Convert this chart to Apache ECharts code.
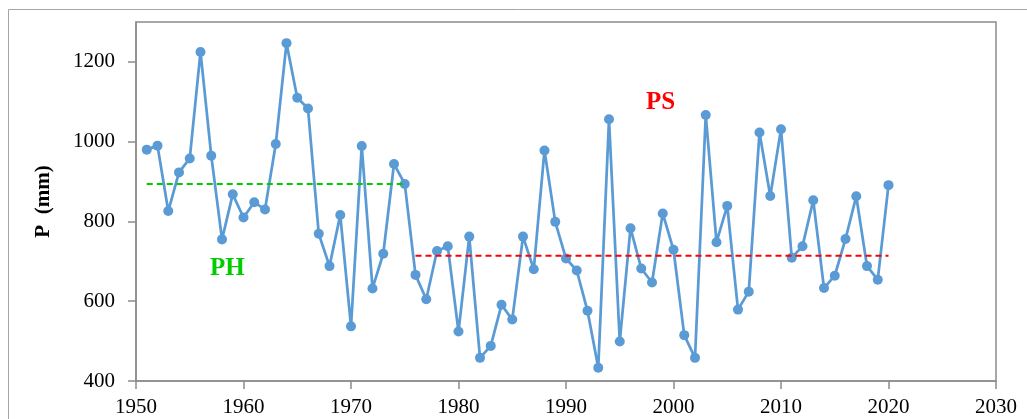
<!DOCTYPE html>
<html>
<head>
<meta charset="utf-8">
<script src="https://cdn.jsdelivr.net/npm/echarts@6/dist/echarts.min.js"></script>
<style>
html, body { margin: 0; padding: 0; background: #fff; }
#chart { width: 1027px; height: 419px; }
</style>
</head>
<body>
<div id="chart"></div>
<script>
var years = [];
for (var y = 1951; y <= 2020; y++) years.push(y);

var precip = [
    980, 990, 826, 923, 958, 1225, 965, 755, 868, 810,
    848, 830, 994, 1247, 1110, 1083, 769, 688, 816, 537,
    989, 632, 719, 944, 894, 666, 605, 726, 738, 524,
    762, 458, 488, 591, 554, 762, 680, 978, 799, 707,
    677, 576, 433, 1056, 499, 783, 682, 647, 820, 729,
    515, 458, 1067, 748, 839, 579, 624, 1023, 864, 1031,
    709, 738, 853, 633, 664, 756, 863, 688, 654, 891
];

// mean of each period
var phRange = [1951, 1975];
var phMean = 894;
var psRange = [1976, 2020];
var psMean = 714;

var serif = '"Liberation Serif", "Times New Roman", serif';

var dom = document.getElementById("chart");
var myChart = echarts.init(dom);

var option = {
    animation: false,
    backgroundColor: '#fff',
    grid: {
        left: 136,
        right: 31,
        top: 22,
        bottom: 38,
        show: true,
        borderColor: '#8c8c8c',
        borderWidth: 1.5
    },
    graphic: [
        {
            type: 'rect',
            shape: { x: 8.5, y: 9.5, width: 1040, height: 430 },
            style: { fill: 'none', stroke: '#a6a6a6', lineWidth: 1 },
            silent: true
        },
        {
            type: 'text',
            left: 210,
            top: 256,
            style: { text: 'PH', fill: '#00cc00', font: 'bold 25px ' + serif }
        },
        {
            type: 'text',
            left: 646,
            top: 90,
            style: { text: 'PS', fill: '#ff0000', font: 'bold 25px ' + serif }
        }
    ],
    xAxis: {
        type: 'value',
        min: 1950,
        max: 2030,
        interval: 10,
        axisLine: { lineStyle: { color: '#8c8c8c', width: 1.5 } },
        axisTick: { length: 8, lineStyle: { color: '#8c8c8c', width: 1.5 } },
        axisLabel: { color: '#000', fontFamily: serif, fontSize: 21, margin: 16,
            formatter: function (v) { return String(v); } },
        splitLine: { show: false }
    },
    yAxis: {
        type: 'value',
        min: 400,
        max: 1300,
        interval: 200,
        name: 'P  (mm)',
        nameLocation: 'middle',
        nameGap: 82,
        nameTextStyle: { color: '#000', fontFamily: serif, fontSize: 21, fontWeight: 'bold' },
        axisLine: { show: true, lineStyle: { color: '#8c8c8c', width: 1.5 } },
        axisTick: { show: true, length: 8, lineStyle: { color: '#8c8c8c', width: 1.5 } },
        axisLabel: { color: '#000', fontFamily: serif, fontSize: 21, margin: 21,
            showMaxLabel: false,
            formatter: function (v) { return String(v); } },
        splitLine: { show: false }
    },
    series: [
        {
            name: 'P',
            type: 'line',
            data: years.map(function (yr, i) { return [yr, precip[i]]; }),
            symbol: 'circle',
            symbolSize: 10,
            lineStyle: { color: '#5b9bd5', width: 2.75 },
            itemStyle: { color: '#5b9bd5' },
            z: 2
        },
        {
            name: 'PH',
            type: 'line',
            data: [[phRange[0], phMean], [phRange[1], phMean]],
            symbol: 'none',
            lineStyle: { color: '#00cc00', width: 2, type: [6, 4] },
            z: 3
        },
        {
            name: 'PS',
            type: 'line',
            data: [[psRange[0], psMean], [psRange[1], psMean]],
            symbol: 'none',
            lineStyle: { color: '#ff0000', width: 2, type: [6, 4] },
            z: 3
        }
    ]
};

myChart.setOption(option, true);
</script>
</body>
</html>
